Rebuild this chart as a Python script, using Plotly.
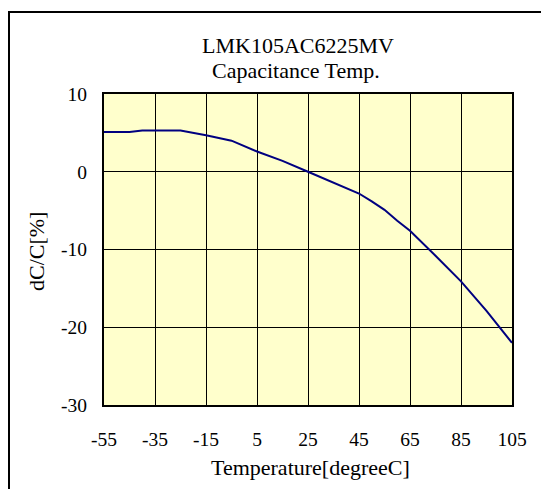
import plotly.graph_objects as go

temperature = [-55, -45, -40, -25, -15, -5, 5, 15, 25, 35, 45, 50, 55, 60, 65, 75, 85, 95, 105]
dc_percent = [5.1, 5.1, 5.3, 5.3, 4.7, 4.0, 2.6, 1.4, 0.0, -1.4, -2.8, -3.8, -4.9, -6.3, -7.6, -10.8, -14.1, -17.9, -22.0]

x_ticks = [-55, -35, -15, 5, 25, 45, 65, 85, 105]
y_ticks = [10, 0, -10, -20, -30]

title_lines = ["LMK105AC6225MV", "Capacitance Temp."]
x_title = "Temperature[degreeC]"
y_title = "dC/C[%]"

# body margin is removed by the post_script, so lay out in page px directly
W, H = 541, 489
PL, PR, PT, PB = 104, 512, 94, 405  # plot area in page px
ML, MT = PL, PT
PW, PH = PR - PL, PB - PT
MR = W - ML - PW
MB = H - MT - PH

def px_x(p):
    return (p - PL) / PW

def px_y(p):
    return (PB - p) / PH

FONT = "Liberation Serif, Times New Roman, serif"

fig = go.Figure()
fig.add_trace(go.Scatter(
    x=temperature, y=dc_percent, mode="lines",
    line=dict(color="#000080", width=2),
    showlegend=False, hoverinfo="x+y",
))

fig.update_layout(
    width=W, height=H,
    margin=dict(l=ML, r=MR, t=MT, b=MB),
    paper_bgcolor="white",
    plot_bgcolor="#FFFFCC",
    font=dict(family=FONT, size=19, color="black"),
    showlegend=False,
)

fig.update_xaxes(
    range=[-55, 105], tickvals=x_ticks, ticktext=[str(v) for v in x_ticks],
    showgrid=True, gridcolor="black", gridwidth=1,
    showline=True, linecolor="black", linewidth=2, mirror=True,
    ticks="", ticklabelstandoff=16, zeroline=False,
    tickfont=dict(family=FONT, size=19.5, color="black"),
)
fig.update_yaxes(
    range=[-30, 10], tickvals=y_ticks, ticktext=[str(v) for v in y_ticks],
    showgrid=True, gridcolor="black", gridwidth=1,
    showline=True, linecolor="black", linewidth=2, mirror=True,
    ticks="", ticklabelstandoff=11, zeroline=False,
    tickfont=dict(family=FONT, size=19.5, color="black"),
)

fig.add_annotation(text=title_lines[0], xref="paper", yref="paper",
                   x=px_x(298), y=px_y(45), showarrow=False,
                   font=dict(family=FONT, size=22, color="black"),
                   xanchor="center", yanchor="middle")
fig.add_annotation(text=title_lines[1], xref="paper", yref="paper",
                   x=px_x(296), y=px_y(70), showarrow=False,
                   font=dict(family=FONT, size=22, color="black"),
                   xanchor="center", yanchor="middle")
fig.add_annotation(text=x_title, xref="paper", yref="paper",
                   x=px_x(310), y=px_y(467), showarrow=False,
                   font=dict(family=FONT, size=22, color="black"),
                   xanchor="center", yanchor="middle")
fig.add_annotation(text=y_title, xref="paper", yref="paper",
                   x=px_x(36), y=px_y(252), showarrow=False, textangle=-90,
                   font=dict(family=FONT, size=22, color="black"),
                   xanchor="center", yanchor="middle")

# outer frame (only top and left edges are visible in the window)
fig.add_shape(type="line", xref="paper", yref="paper",
              x0=px_x(8), x1=px_x(560), y0=px_y(12), y1=px_y(12),
              line=dict(color="black", width=2))
fig.add_shape(type="line", xref="paper", yref="paper",
              x0=px_x(9), x1=px_x(9), y0=px_y(12), y1=px_y(520),
              line=dict(color="black", width=2))

fig.write_html(
    "out.html",
    config={"displayModeBar": False},
    post_script=(
        "document.body.style.margin='0';"
        "document.documentElement.style.overflow='hidden';"
        "document.body.style.overflow='hidden';"
    ),
)
